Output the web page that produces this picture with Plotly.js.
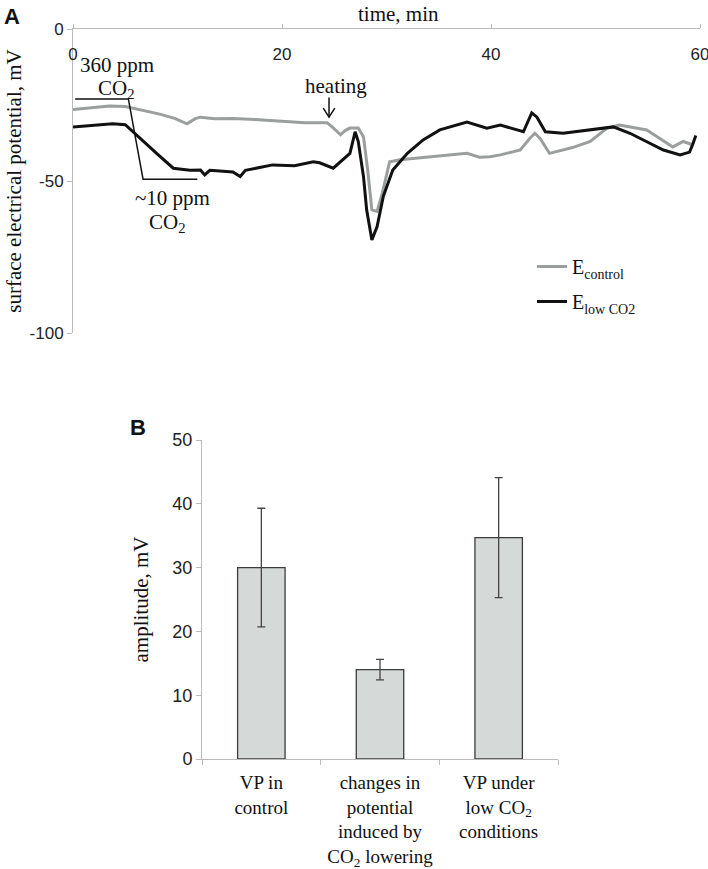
<!DOCTYPE html>
<html>
<head>
<meta charset="utf-8">
<script src="https://cdn.plot.ly/plotly-3.0.1.min.js"></script>
<style>html,body{margin:0;padding:0;background:#fff;}#chart{width:708px;height:869px;}</style>
</head>
<body>
<div id="chart"></div>
<script>
// Panel A: surface electrical potential (mV) vs time (min)
const controlTime = [0,1.6,3.5,5.0,6.4,8.3,9.8,10.9,11.7,12.2,13.6,15.3,17.4,20.1,22.2,24.3,24.8,25.6,26.0,26.5,27.3,27.8,28.2,28.6,29.1,29.6,30.3,31.3,34.4,37.7,38.9,39.9,40.9,42.8,43.7,44.2,44.7,45.6,47.8,49.5,51.1,52.3,54.9,57.4,58.4,59.2];
const controlValues = [-26.5,-26,-25.3,-25.5,-26.5,-28,-29.5,-31.2,-29.5,-29,-29.5,-29.4,-29.8,-30.5,-30.8,-30.8,-32.2,-34.8,-33.5,-32.6,-32.6,-35.5,-46.4,-59.5,-60,-54,-43.7,-43,-42,-40.9,-42.2,-42,-41.4,-39.8,-36,-34.3,-36,-40.9,-39,-37,-32.6,-31.6,-33.2,-38.8,-37,-38];

const lowTime = [0,1.6,3.8,5.0,6.4,8.0,9.6,11.2,12.2,12.6,13.1,15.3,16.0,16.5,19.1,21.2,23.0,23.6,24.9,25.8,26.5,27.0,27.3,27.8,28.1,28.6,29.1,29.7,30.6,32.0,33.5,35.1,37.7,39.6,40.9,43.1,43.9,44.4,45.2,46.9,49.5,51.7,53.3,54.9,56.5,58.1,59.0,59.3,59.6];
const lowValues = [-32.2,-31.8,-31.2,-31.5,-36,-40.9,-45.8,-46.5,-46.4,-48,-46.5,-47,-48.5,-46.5,-44.7,-45,-43.7,-44,-45.8,-43,-40.9,-33.8,-37,-48.6,-59.5,-69.4,-65,-55,-46.4,-40.9,-36.5,-33.2,-30.6,-32.6,-31.6,-33.8,-27.6,-29,-33.8,-34.3,-33.2,-32.2,-34.3,-37,-39.8,-41.4,-40.5,-38,-35];

const legendNames = ["E<sub>control</sub>", "E<sub>low CO2</sub>"];
const timeTicks = [0, 20, 40, 60];
const potentialTicks = [0, -50, -100];
const potentialTickText = ["0", "-50", "-100"];

// Panel B: amplitudes (mV)
const categories = ["VP in<br>control", "changes in<br>potential<br>induced by<br>CO<sub>2</sub> lowering", "VP under<br>low CO<sub>2</sub><br>conditions"];
const amplitudes = [30, 14, 34.7];
const amplitudeErrors = [9.3, 1.6, 9.4];
const amplitudeTicks = [0, 10, 20, 30, 40, 50];

const serif = "Liberation Serif, Times New Roman, serif";
const sans = "Liberation Sans, Arial, sans-serif";
const W = 708, H = 869;
const px = v => v / W, py = v => 1 - v / H;
// pixel -> data helpers for panel A annotation text placement
const tx = v => (v - 73) / 10.45;
const ty = v => -(v - 29) / 3.04;

const traces = [
  {x: controlTime, y: controlValues, type: "scatter", mode: "lines", name: legendNames[0],
   line: {color: "#9a9e9d", width: 3}, xaxis: "x", yaxis: "y", legendgroup: "a"},
  {x: lowTime, y: lowValues, type: "scatter", mode: "lines", name: legendNames[1],
   line: {color: "#111111", width: 3}, xaxis: "x", yaxis: "y", legendgroup: "b"},
  {x: categories, y: amplitudes, type: "bar", width: 0.4, showlegend: false,
   marker: {color: "#d5d9d7", line: {color: "#3c3c3c", width: 1.3}},
   error_y: {type: "data", array: amplitudeErrors, visible: true, color: "#444", thickness: 1.3, width: 4},
   xaxis: "x2", yaxis: "y2"}
];

const txtFont = {family: serif, size: 21, color: "#111"};
const centered = {showarrow: false, xanchor: "center", yanchor: "middle"};

const layout = {
  width: W, height: H,
  margin: {l: 0, r: 0, t: 0, b: 0},
  paper_bgcolor: "#fff", plot_bgcolor: "#fff",
  showlegend: true,
  legend: {x: px(532), y: py(247), xanchor: "left", yanchor: "top", bgcolor: "rgba(0,0,0,0)",
           font: {family: serif, size: 20, color: "#111"}, tracegroupgap: 6, itemwidth: 30},
  xaxis: {domain: [px(73), px(700)], range: [0, 60], side: "top", tickvals: timeTicks,
          ticktext: timeTicks.map(String), ticklabelposition: "inside", ticklabeloverflow: "allow",
          ticklabelstandoff: 20,
          ticks: "outside", ticklen: 4, tickcolor: "#bbb", showline: true, linecolor: "#bbb",
          linewidth: 1, showgrid: false, zeroline: false, anchor: "y",
          tickfont: {family: sans, size: 17, color: "#222"}},
  yaxis: {domain: [py(333), py(29)], range: [-100, 0], tickvals: potentialTicks, ticktext: potentialTickText,
          ticks: "outside", ticklen: 5, tickcolor: "#bbb", showline: true, linecolor: "#bbb",
          showgrid: false, zeroline: false, anchor: "x",
          tickfont: {family: sans, size: 17, color: "#222"},
          title: {text: "surface electrical potential, mV", font: txtFont, standoff: 2}},
  xaxis2: {domain: [px(202), px(558)], type: "category", tickson: "boundaries", tickangle: 0,
           ticklabelstandoff: 6,
           ticks: "outside", ticklen: 5, tickcolor: "#bbb", showline: true, linecolor: "#bbb",
           showgrid: false, zeroline: false, anchor: "y2",
           tickfont: {family: serif, size: 19, color: "#111"}},
  yaxis2: {domain: [py(759), py(440)], range: [0, 50], tickvals: amplitudeTicks,
           ticks: "outside", ticklen: 5, tickcolor: "#bbb", showline: true, linecolor: "#bbb",
           showgrid: false, zeroline: false, anchor: "x2",
           tickfont: {family: sans, size: 18, color: "#222"},
           title: {text: "amplitude, mV", font: txtFont, standoff: 18}},
  shapes: [
    {type: "path", xref: "x", yref: "y", path: "M0.2,-23 L5.3,-23 L6.7,-49.4 L11.9,-49.4",
     line: {color: "#111", width: 1.5}},
    {type: "line", xref: "x", yref: "y", x0: 24.5, y0: -22.5, x1: 24.5, y1: -29, line: {color: "#111", width: 1.5}},
    {type: "path", xref: "x", yref: "y", path: "M23.95,-26 L24.5,-29 L25.05,-26", line: {color: "#111", width: 1.5}}
  ],
  annotations: [
    Object.assign({text: "time, min", xref: "paper", yref: "paper", x: px(398), y: py(14), font: txtFont}, centered),
    Object.assign({text: "<b>A</b>", xref: "paper", yref: "paper", x: px(12), y: py(17),
     font: {family: sans, size: 22, color: "#111"}}, centered),
    Object.assign({text: "<b>B</b>", xref: "paper", yref: "paper", x: px(138), y: py(427),
     font: {family: sans, size: 22, color: "#111"}}, centered),
    Object.assign({text: "360 ppm", xref: "x", yref: "y", x: tx(117), y: ty(65), font: txtFont}, centered),
    Object.assign({text: "CO<sub>2</sub>", xref: "x", yref: "y", x: tx(116), y: ty(89), font: txtFont}, centered),
    Object.assign({text: "~10 ppm", xref: "x", yref: "y", x: tx(172), y: ty(198), font: txtFont}, centered),
    Object.assign({text: "CO<sub>2</sub>", xref: "x", yref: "y", x: tx(167), y: ty(223), font: txtFont}, centered),
    Object.assign({text: "heating", xref: "x", yref: "y", x: tx(336), y: ty(86), font: txtFont}, centered)
  ]
};

Plotly.newPlot("chart", traces, layout, {staticPlot: true, displayModeBar: false});
</script>
</body>
</html>
